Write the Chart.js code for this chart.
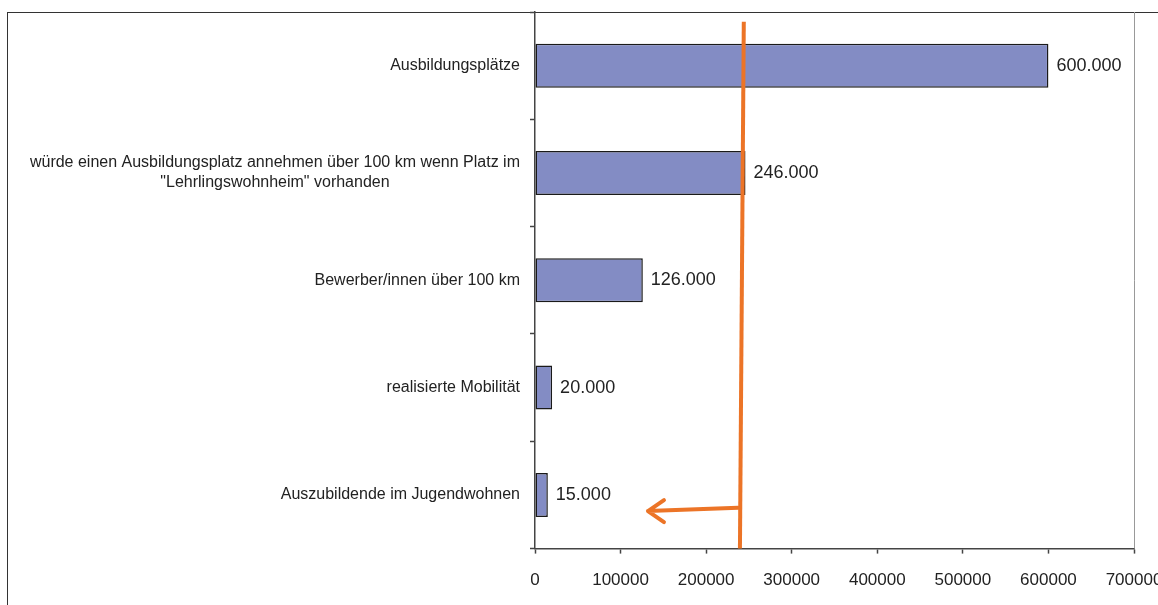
<!DOCTYPE html>
<html>
<head>
<meta charset="utf-8">
<script src="https://cdn.jsdelivr.net/npm/chart.js@4.4.1/dist/chart.umd.min.js"></script>
<style>
body{margin:0;background:#fff;overflow:hidden;width:1158px;height:605px;position:relative}
#frame{position:absolute;left:7px;top:12px;width:1300px;height:700px;border-left:1.5px solid #333;border-top:1.5px solid #333}
#mycanvas{position:absolute;left:0;top:0}
</style>
</head>
<body>
<div id="frame"></div>
<canvas id="mycanvas" width="1180" height="608"></canvas>
<script>
// categories, top to bottom
var categories = [
	["Ausbildungsplätze"],
	["würde einen Ausbildungsplatz annehmen über 100 km wenn Platz im", "\"Lehrlingswohnheim\" vorhanden"],
	["Bewerber/innen über 100 km"],
	["realisierte Mobilität"],
	["Auszubildende im Jugendwohnen"]
];
var counts = [600000, 246000, 126000, 20000, 15000];
var xTicks = [0, 100000, 200000, 300000, 400000, 500000, 600000, 700000];

// hand drawn orange marks (value, category index)
var markLineX = [244000, 239500];
var markLineY = [-0.41, 4.5];
var arrowX = [237500, 132000];
var arrowY = [4.12, 4.15];

function fmt(v){
	return String(v).replace(/\B(?=(\d{3})+(?!\d))/g, ".");
}

var labelsPlugin = {
	id: 'labels',
	afterDatasetsDraw: function(chart){
		var ctx = chart.ctx;
		var yScale = chart.scales.y;
		var left = chart.chartArea.left;
		ctx.save();
		// category labels, block right aligned, lines centered
		ctx.font = '16px "Liberation Sans", Arial, sans-serif';
		ctx.fillStyle = '#222';
		ctx.textBaseline = 'middle';
		ctx.textAlign = 'center';
		for (var i = 0; i < categories.length; i++) {
			var lines = categories[i];
			var w = 0;
			for (var j = 0; j < lines.length; j++) w = Math.max(w, ctx.measureText(lines[j]).width);
			var cx = left - 15 - w / 2;
			var cy = yScale.getPixelForValue(i);
			var lh = 20;
			var y0 = cy - (lines.length - 1) * lh / 2;
			for (var j = 0; j < lines.length; j++) ctx.fillText(lines[j], cx, y0 + j * lh);
		}
		// value labels
		ctx.font = '18px "Liberation Sans", Arial, sans-serif';
		ctx.textAlign = 'left';
		var meta = chart.getDatasetMeta(0);
		meta.data.forEach(function(bar, k){
			ctx.fillText(fmt(counts[k]), bar.x + 8, bar.y);
		});
		ctx.restore();
	},
	afterDraw: function(chart){
		var ctx = chart.ctx;
		var xs = chart.scales.x, ys = chart.scales.y;
		var a = chart.chartArea;
		ctx.save();
		// right border of plot
		ctx.strokeStyle = '#999';
		ctx.lineWidth = 1;
		ctx.beginPath();
		ctx.moveTo(a.right + 0.5, a.top);
		ctx.lineTo(a.right + 0.5, a.bottom);
		ctx.stroke();
		// orange line
		ctx.strokeStyle = '#EC7427';
		ctx.lineWidth = 4;
		ctx.beginPath();
		ctx.moveTo(xs.getPixelForValue(markLineX[0]), ys.getPixelForValue(markLineY[0]));
		ctx.lineTo(xs.getPixelForValue(markLineX[1]), ys.getPixelForValue(markLineY[1]));
		ctx.stroke();
		// orange arrow
		var x1 = xs.getPixelForValue(arrowX[0]), y1 = ys.getPixelForValue(arrowY[0]);
		var x2 = xs.getPixelForValue(arrowX[1]), y2 = ys.getPixelForValue(arrowY[1]);
		ctx.lineCap = 'round';
		ctx.lineJoin = 'round';
		ctx.beginPath();
		ctx.moveTo(x1, y1);
		ctx.lineTo(x2, y2);
		ctx.moveTo(x2 + 16, y2 - 11);
		ctx.lineTo(x2, y2);
		ctx.lineTo(x2 + 16, y2 + 11);
		ctx.stroke();
		ctx.restore();
	}
};

var ctx = document.getElementById("mycanvas");
var barGraph = new Chart(ctx, {
	type: 'bar',
	data: {
		labels: categories.map(function(c){ return c.join(' '); }),
		datasets: [{
			label: "Anzahl",
			backgroundColor: '#838CC4',
			borderColor: '#1a1a1a',
			borderWidth: 1.5,
			borderSkipped: false,
			categoryPercentage: 1,
			barPercentage: 0.41,
			data: counts
		}]
	},
	options: {
		indexAxis: 'y',
		responsive: false,
		animation: false,
		layout: {padding: {left: 530, top: 12, right: 46, bottom: 0}},
		plugins: {legend: {display: false}, tooltip: {enabled: false}},
		scales: {
			x: {
				min: 0, max: 700000,
				afterBuildTicks: function(s){ s.ticks = xTicks.map(function(v){ return {value: v}; }); },
				grid: {drawOnChartArea: false, tickLength: 5, color: '#444', tickWidth: 1.5},
				border: {color: '#444', width: 1.5},
				ticks: {padding: 17, color: '#222', maxRotation: 0, autoSkip: false,
					font: {family: '"Liberation Sans", Arial, sans-serif', size: 17},
					callback: function(v){ return String(v); }}
			},
			y: {
				grid: {drawOnChartArea: false, tickLength: 5, color: '#444', tickWidth: 1.5},
				border: {color: '#444', width: 1.5},
				ticks: {display: false}
			}
		}
	},
	plugins: [labelsPlugin]
});
</script>
</body>
</html>
